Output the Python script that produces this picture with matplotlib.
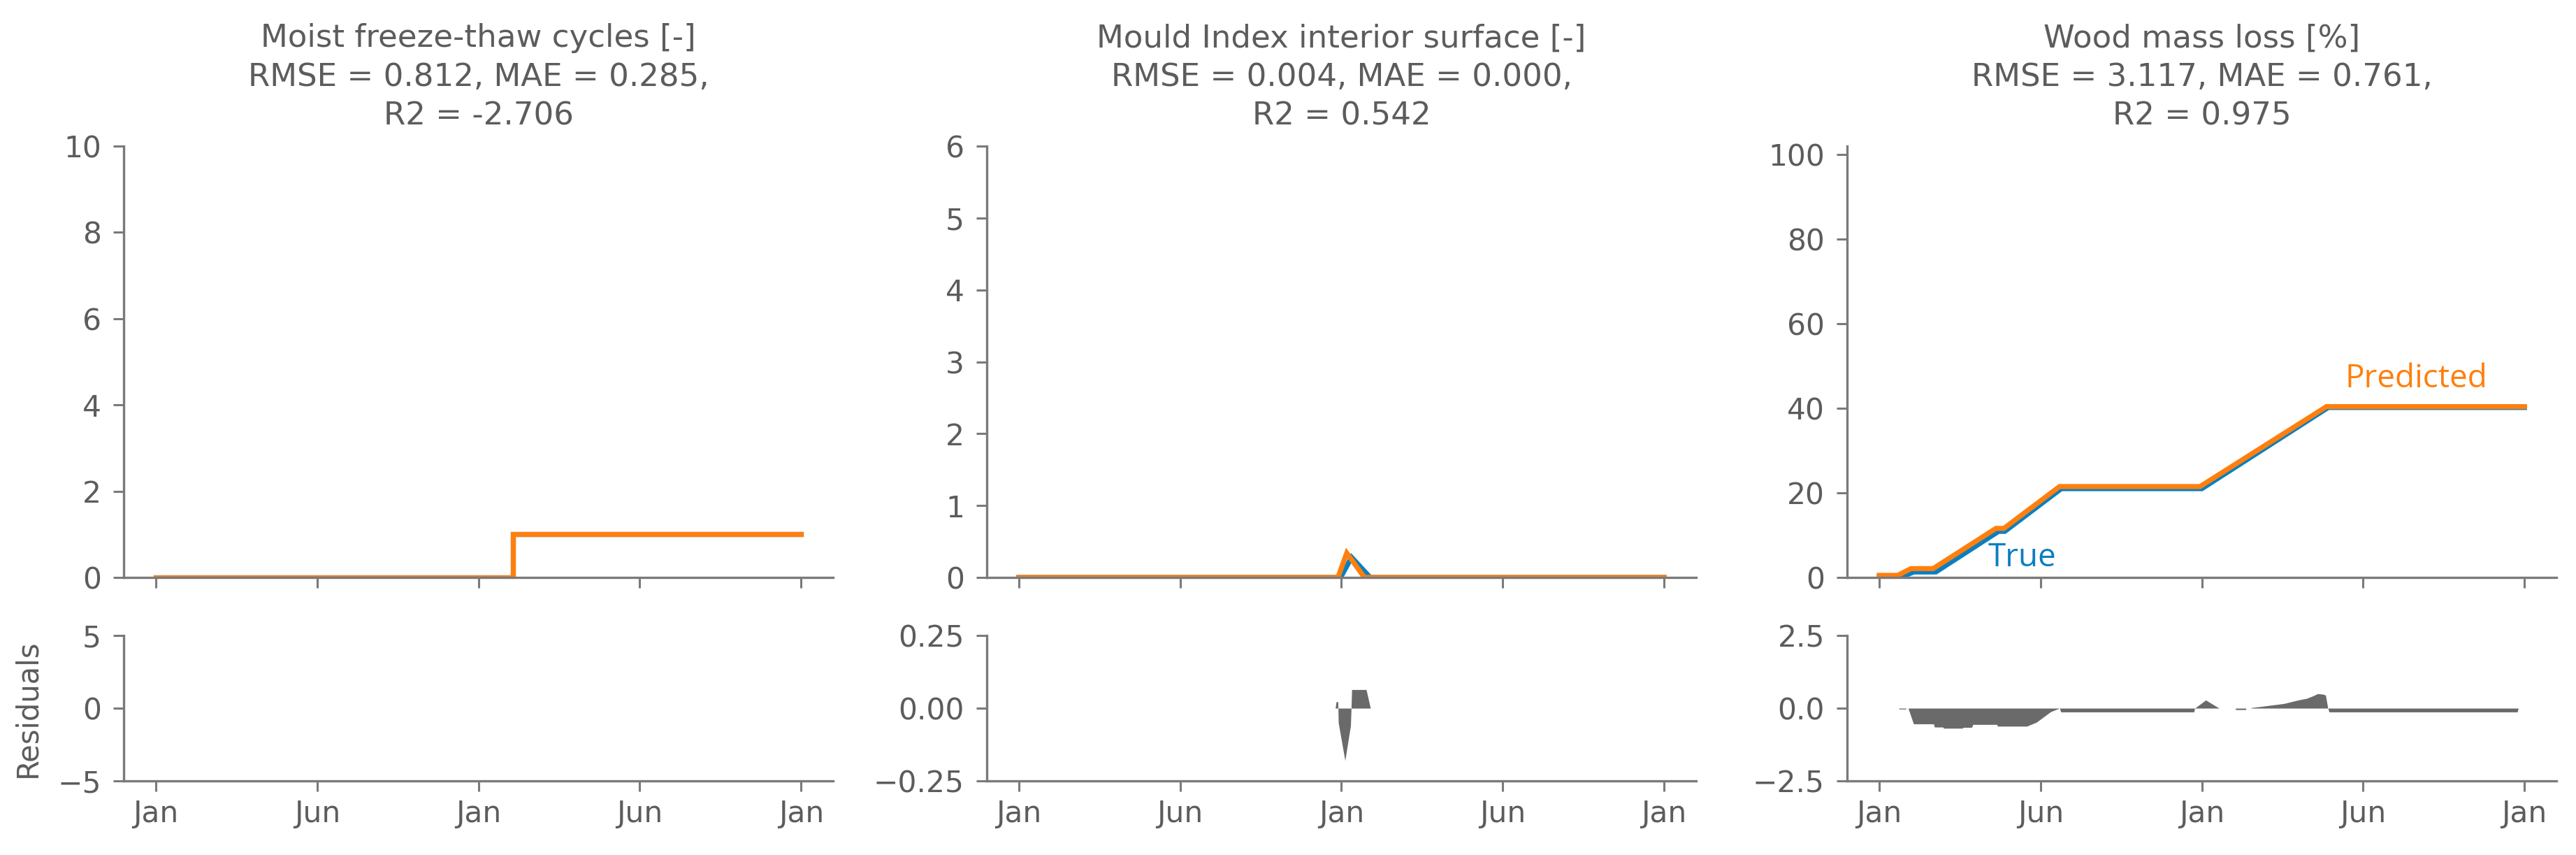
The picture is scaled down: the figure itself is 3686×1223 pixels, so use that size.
import matplotlib
matplotlib.use("Agg")
import matplotlib.pyplot as plt

# ---------------- data ----------------
tick_days = [0, 182.5, 365, 547.5, 730]
tick_labels = ["Jan", "Jun", "Jan", "Jun", "Jan"]

titles = [
    "Moist freeze-thaw cycles [-]\nRMSE = 0.812, MAE = 0.285,\nR2 = -2.706",
    "Mould Index interior surface [-]\nRMSE = 0.004, MAE = 0.000,\nR2 = 0.542",
    "Wood mass loss [%]\nRMSE = 3.117, MAE = 0.761,\nR2 = 0.975",
]

# Panel 1: moist freeze-thaw cycles
ft_true_x = [0, 404, 404, 730]
ft_true_y = [0, 0, 1, 1]
ft_pred_x = [0, 404, 404, 730]
ft_pred_y = [0, 0, 1, 1]
ft_res_x = [0, 730]
ft_res_y = [0, 0]

# Panel 2: mould index
mould_true_x = [0, 364, 376.5, 397.5, 730]
mould_true_y = [0, 0, 0.28, 0, 0]
mould_pred_x = [0, 361, 371, 391, 730]
mould_pred_y = [0, 0, 0.34, 0, 0]
mould_res_x = [0, 358, 359, 361, 361.5, 369, 375.3, 376, 376.6, 378.4, 393, 397.8, 730]
mould_res_y = [0, 0, 0.022, 0.022, -0.05, -0.18, -0.06, 0, 0.064, 0.064, 0.064, 0, 0]

# Panel 3: wood mass loss
wood_true_x = [0, 26, 39, 64, 135, 142, 206, 365, 508, 730]
wood_true_y = [0.2, 0.2, 1.3, 1.3, 10.9, 10.9, 21.0, 21.0, 40.2, 40.2]
wood_pred_x = [0, 21, 36, 61, 132, 141, 204, 363, 506, 730]
wood_pred_y = [0.5, 0.5, 2.1, 2.1, 11.6, 11.6, 21.5, 21.5, 40.4, 40.4]
wood_res_x = [0, 22, 22.5, 30, 30.5, 32.7, 38.8, 61.5, 62.5, 72, 73, 94, 95, 104.6,
              106, 133, 134, 167, 178, 194, 199, 204, 205.4, 356, 357, 369.4, 384.6,
              403, 403.2, 414.7, 414.9, 420.7, 421, 432, 458, 474, 484, 492, 496,
              502, 505, 507.6, 509, 722, 723, 730]
wood_res_y = [0, 0, -0.03, -0.03, 0, 0, -0.54, -0.54, -0.65, -0.65, -0.69, -0.69, -0.66, -0.66,
              -0.56, -0.56, -0.62, -0.62, -0.48, -0.12, -0.06, 0, -0.13, -0.13, 0, 0.28, 0,
              0, -0.05, -0.05, 0, 0, 0.02, 0.06, 0.16, 0.28, 0.34, 0.44, 0.5,
              0.48, 0.45, 0, -0.13, -0.13, 0, 0]

top_ylims = [(0, 10), (0, 6), (0, 102)]
top_yticks = [[0, 2, 4, 6, 8, 10], [0, 1, 2, 3, 4, 5, 6], [0, 20, 40, 60, 80, 100]]
res_ylims = [(-5, 5), (-0.25, 0.25), (-2.5, 2.5)]
res_yticks = [[-5, 0, 5], [-0.25, 0, 0.25], [-2.5, 0, 2.5]]
res_fmt = ["{:.0f}", "{:.2f}", "{:.1f}"]

series = [
    (ft_true_x, ft_true_y, ft_pred_x, ft_pred_y, ft_res_x, ft_res_y),
    (mould_true_x, mould_true_y, mould_pred_x, mould_pred_y, mould_res_x, mould_res_y),
    (wood_true_x, wood_true_y, wood_pred_x, wood_pred_y, wood_res_x, wood_res_y),
]

# ---------------- style ----------------
BLUE = "#0a7fc0"
ORANGE = "#ff7f0e"
GREY_TXT = "#5c5c5c"
GREY_AX = "#7a7a7a"
GREY_FILL = "#6a6a6a"

plt.rcParams["font.family"] = ["DejaVu Sans"]

fig = plt.figure(figsize=(36.86, 12.23), dpi=100)

lefts = [0.048, 0.383, 0.717]
width = 0.2755
top_bottom, top_height = 0.3246, 0.5045
res_bottom, res_height = 0.0867, 0.170


def style_axes(ax):
    for s in ["top", "right"]:
        ax.spines[s].set_visible(False)
    for s in ["left", "bottom"]:
        ax.spines[s].set_color(GREY_AX)
        ax.spines[s].set_linewidth(2.4)
    ax.tick_params(axis="both", colors=GREY_AX, labelcolor=GREY_TXT,
                   labelsize=30.5, length=11, width=2.2)
    ax.tick_params(axis="y", pad=12)
    ax.tick_params(axis="x", pad=8)


for i in range(3):
    tx, ty, px, py, rx, ry = series[i]
    ax = fig.add_axes([lefts[i], top_bottom, width, top_height])
    rax = fig.add_axes([lefts[i], res_bottom, width, res_height])

    ax.plot(tx, ty, color=BLUE, lw=5.2, solid_joinstyle="miter")
    ax.plot(px, py, color=ORANGE, lw=5.2, solid_joinstyle="miter")
    ax.set_ylim(*top_ylims[i])
    ax.set_yticks(top_yticks[i])
    ax.set_xlim(-36.5, 766.5)
    ax.set_xticks(tick_days)
    ax.set_xticklabels([])
    ax.set_title(titles[i], fontsize=32.5, color=GREY_TXT, pad=22, linespacing=1.37)
    style_axes(ax)

    rax.fill_between(rx, ry, 0, color=GREY_FILL, linewidth=0)
    rax.set_ylim(*res_ylims[i])
    rax.set_yticks(res_yticks[i])
    rax.set_yticklabels([res_fmt[i].format(v).replace("-", "\u2212") for v in res_yticks[i]])
    rax.set_xlim(-36.5, 766.5)
    rax.set_xticks(tick_days)
    rax.set_xticklabels(tick_labels)
    style_axes(rax)
    if i == 0:
        rax.set_ylabel("Residuals", fontsize=30, color=GREY_TXT, labelpad=16)
    if i == 2:
        ax.text(123, 2.7, "True", color=BLUE, fontsize=33, family=["Open Sans", "DejaVu Sans"],
                ha="left", va="baseline")
        ax.text(527, 44.9, "Predicted", color=ORANGE, fontsize=33,
                family=["Open Sans", "DejaVu Sans"], ha="left", va="baseline")

fig.savefig("out.png", dpi=100, facecolor="white")
